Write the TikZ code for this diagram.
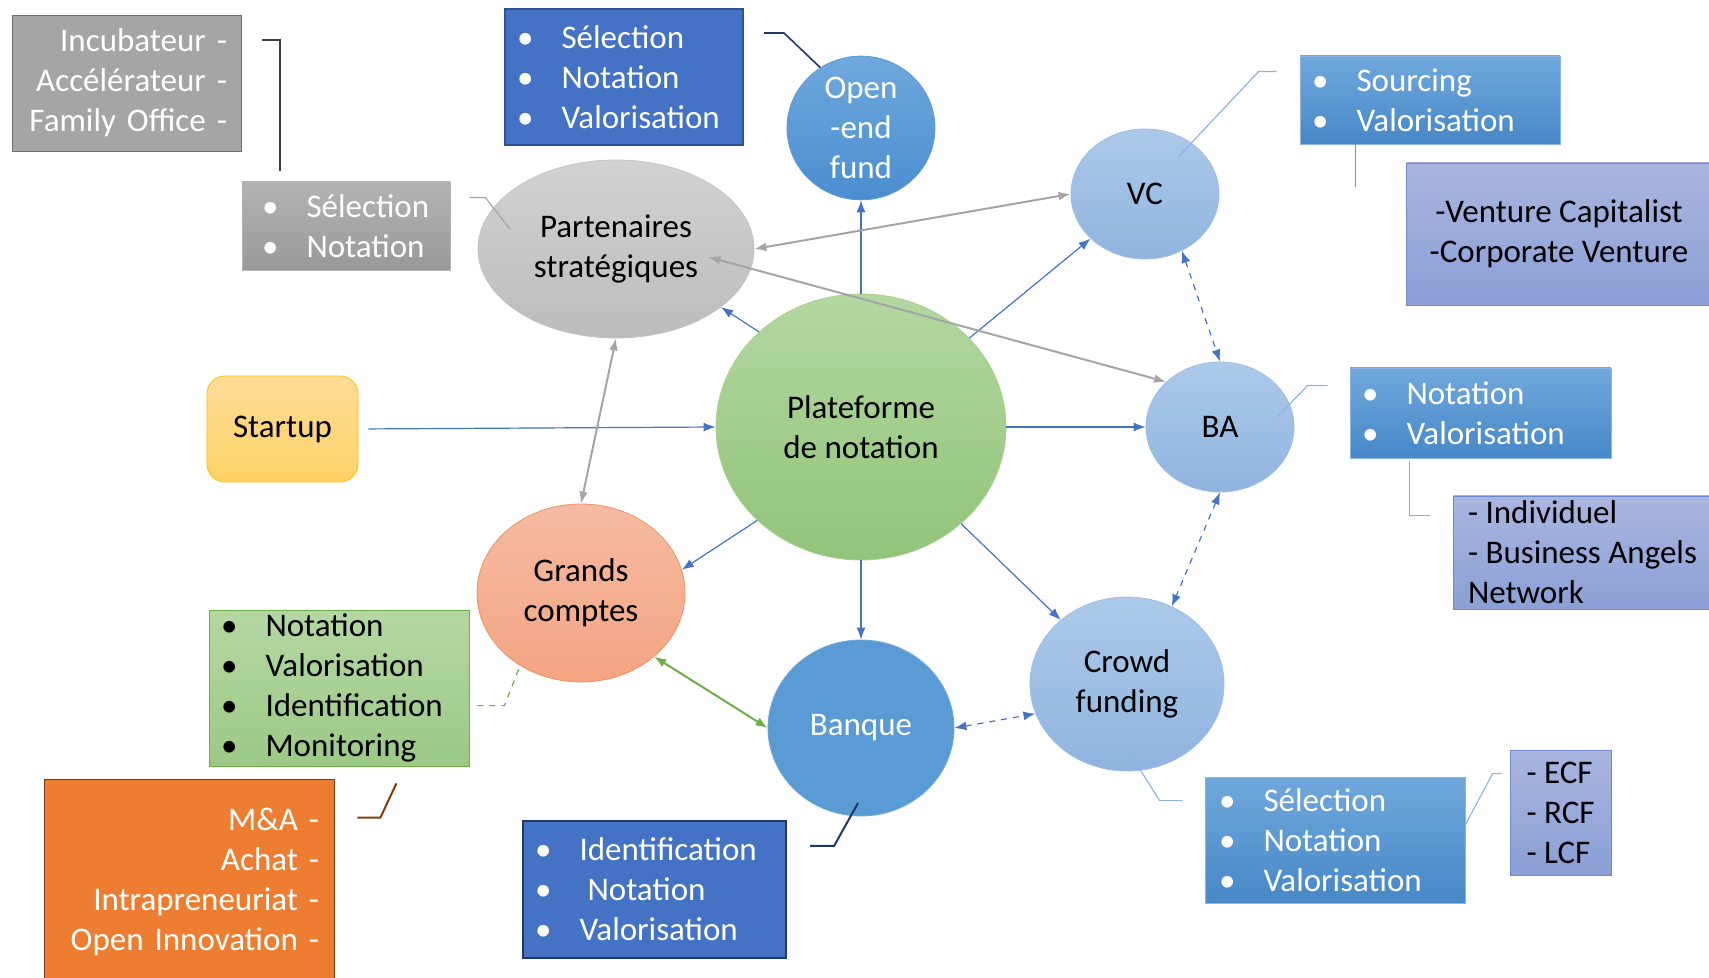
\documentclass[tikz,border=0pt]{standalone}
\usepackage{fontspec}
\setmainfont{Carlito}
\usetikzlibrary{shapes.geometric, arrows.meta}
\definecolor{linkblue}{HTML}{4472C4}
\definecolor{linkgray}{HTML}{A5A5A5}
\definecolor{linkgreen}{HTML}{70AD47}
\definecolor{navy}{HTML}{1F3864}
\definecolor{paleblue}{HTML}{8EB4E3}
\definecolor{brownline}{HTML}{843C0C}
\definecolor{hubtop}{HTML}{B3D7A0}
\definecolor{hubbot}{HTML}{92C47A}
\definecolor{hubline}{HTML}{A9D18E}
\definecolor{parttop}{HTML}{D2D2D2}
\definecolor{partbot}{HTML}{BCBCBC}
\definecolor{partline}{HTML}{C4C4C4}
\definecolor{opentop}{HTML}{6FA8DC}
\definecolor{openbot}{HTML}{4A8ED0}
\definecolor{bankblue}{HTML}{5B9BD5}
\definecolor{lighttop}{HTML}{ADC9E9}
\definecolor{lightbot}{HTML}{8FB4E0}
\definecolor{lightline}{HTML}{9DBDE6}
\definecolor{gctop}{HTML}{F5BBA2}
\definecolor{gcbot}{HTML}{F4A482}
\definecolor{gcline}{HTML}{F08F63}
\definecolor{sttop}{HTML}{FFDC98}
\definecolor{stbot}{HTML}{FFD266}
\definecolor{stline}{HTML}{FFC000}
\definecolor{incubfill}{HTML}{A5A5A5}
\definecolor{incubline}{HTML}{6E6E6E}
\definecolor{graytop}{HTML}{B3B3B3}
\definecolor{graybot}{HTML}{999999}
\definecolor{boxline}{HTML}{2F528F}
\definecolor{midtop}{HTML}{70A8DC}
\definecolor{midbot}{HTML}{4788C8}
\definecolor{kindtop}{HTML}{AAB5E0}
\definecolor{kindbot}{HTML}{8A9FD6}
\definecolor{kindline}{HTML}{6D8AD0}
\definecolor{greentop}{HTML}{B5D7A3}
\definecolor{greenbot}{HTML}{9CC986}
\definecolor{orangefill}{HTML}{ED7D31}
\definecolor{darkline}{HTML}{404040}
\definecolor{kindlink}{HTML}{8FAADC}
\newcommand\diagfont{\fontsize{16.5}{20}\selectfont}
\newcommand\itembul{\makebox[1.35em][l]{\textbullet}}

\begin{document}
\begin{tikzpicture}[x=0.5pt, y=-0.5pt, >={Latex[length=6pt, width=4.5pt]},
                    every node/.style = {font=\diagfont},
                    actor/.style = {ellipse,
                                    inner sep = 0pt,
                                    draw,
                                    align = center,
                                    text = black},
                    lightactor/.style = {actor,
                                         top color = lighttop,
                                         bottom color = lightbot,
                                         draw = lightline},
                    listbox/.style = {rectangle,
                                      inner sep = 0pt,
                                      draw,
                                      align = left},
                    darklist/.style = {listbox,
                                       fill = linkblue,
                                       draw = boxline,
                                       line width = 1pt,
                                       text = white},
                    midlist/.style = {listbox,
                                      top color = midtop,
                                      bottom color = midbot,
                                      draw = paleblue,
                                      text = white},
                    kindbox/.style = {listbox,
                                      top color = kindtop,
                                      bottom color = kindbot,
                                      draw = kindline,
                                      text = black},
                    link/.style = {->, linkblue, line width = 0.6pt},
                    duallink/.style = {<->, linkblue, line width = 0.6pt, dashed},
                    grayline/.style = {<->, linkgray, line width = 1pt},
                    callout/.style = {line width = 0.6pt}]

\useasboundingbox (0,0) rectangle (1709,978);

% acteurs
\node[actor, top color = hubtop, bottom color = hubbot, draw = hubline,
      minimum width = 145pt, minimum height = 133pt] (hub) at (861,427) {Plateforme\\de notation};
\node[actor, top color = parttop, bottom color = partbot, draw = partline,
      minimum width = 138pt, minimum height = 89pt] (part) at (616,249) {Partenaires\\stratégiques};
\node[actor, top color = opentop, bottom color = openbot, draw = bankblue, text = white,
      minimum width = 74pt, minimum height = 65pt] (open) at (861,128) {Open\\-end\\fund};
\node[lightactor, minimum width = 74pt, minimum height = 65pt] (vc) at (1145,194) {VC};
\node[lightactor, minimum width = 74pt, minimum height = 65pt] (ba) at (1220,427) {BA};
\node[lightactor, minimum width = 97pt, minimum height = 87pt] (cf) at (1127,684) {Crowd\\funding};
\node[actor, fill = bankblue, draw = opentop, text = white,
      minimum width = 93pt, minimum height = 88pt] (bq) at (861,728) {Banque};
\node[actor, top color = gctop, bottom color = gcbot, draw = gcline,
      minimum width = 104pt, minimum height = 89pt] (gc) at (581,593) {Grands\\comptes};
\node[rectangle, rounded corners = 9pt, draw = stline, top color = sttop, bottom color = stbot,
      minimum width = 75.5pt, minimum height = 53pt] (st) at (282.5,429) {Startup};

% listes
\node[listbox, fill = incubfill, draw = incubline, text = white, align = right,
      text width = 100.5pt, minimum width = 114.5pt, minimum height = 68pt] (incub) at (126.5,83)
     {Incubateur -\\Accélérateur -\\Family Office -};
\node[listbox, top color = graytop, bottom color = graybot, draw = graytop, text = white,
      text width = 84pt, minimum width = 104pt, minimum height = 44pt] (selgray) at (346,226)
     {\itembul Sélection\\\itembul Notation};
\node[darklist, text width = 107pt, minimum width = 119pt, minimum height = 68pt] (selblue) at (624,77)
     {\itembul Sélection\\\itembul Notation\\\itembul Valorisation};
\node[midlist, text width = 118pt, minimum width = 130pt, minimum height = 44pt] (sourcing) at (1430,100)
     {\itembul Sourcing\\\itembul Valorisation};
\node[kindbox, align = center, minimum width = 153pt, minimum height = 71pt] (venture) at (1559,234)
     {-Venture Capitalist\\-Corporate Venture};
\node[midlist, text width = 118.5pt, minimum width = 130.5pt, minimum height = 45pt] (balist) at (1480.5,413)
     {\itembul Notation\\\itembul Valorisation};
\node[kindbox, minimum width = 129.5pt, minimum height = 56.5pt] (indiv) at (1582.5,552.5)
     {- Individuel\\- Business Angels\\Network};
\node[midlist, text width = 116pt, minimum width = 130pt, minimum height = 63pt] (cflist) at (1335,840)
     {\itembul Sélection\\\itembul Notation\\\itembul Valorisation};
\node[kindbox, minimum width = 50.5pt, minimum height = 62.5pt] (ecf) at (1560.5,812.5)
     {- ECF\\- RCF\\- LCF};
\node[listbox, top color = greentop, bottom color = greenbot, draw = linkgreen,
      text width = 118pt, minimum width = 130pt, minimum height = 78pt] (gclist) at (339,688)
     {\itembul Notation\\\itembul Valorisation\\\itembul Identification\\\itembul Monitoring};
\node[listbox, fill = orangefill, draw = brownline, text = white, align = right,
      text width = 130pt, minimum width = 145pt, minimum height = 103pt] (usage) at (189,882)
     {M\&A -\\Achat -\\Intrapreneuriat -\\Open Innovation -};
\node[darklist, draw = navy, line width = 1.2pt, text width = 119.5pt,
      minimum width = 131.5pt, minimum height = 68.5pt] (bqlist) at (654.5,889.5)
     {\itembul Identification\\\itembul\hspace{4pt}Notation\\\itembul Valorisation};

% flux
\path (st.east) edge [link, shorten <= 5pt] (hub.west);
\path (hub) edge [link] (open);
\path (hub) edge [link] (vc);
\path (hub) edge [link] (ba);
\path (hub) edge [link] (cf);
\path (hub) edge [link] (bq);
\path (hub.137) edge [link] (part.-29);
\path (hub.222) edge [link] (gc.13);
\path (part.east) edge [grayline] (vc.west);
\path ([shift={(-46,8)}]part.east) edge [grayline] (ba.140);
\path (part.south) edge [grayline] (gc.north);
\path (vc.-57) edge [duallink] (ba.north);
\path (ba.south) edge [duallink] (cf.60);
\path (bq.east) edge [duallink] (cf.198);
\path (gc.-41) edge [<->, linkgreen, line width = 1pt] (bq.west);

% renvois
\draw[callout, darkline, line width = 1pt] ([shift={(21,25)}]incub.north east) -| ([shift={(38,-11)}]selgray.north west);
\draw[callout, linkgray] ([shift={(19,16)}]selgray.north east) -- ++(16,0) -- ([shift={(-106,-20)}]part.center);
\draw[callout, navy, line width = 0.8pt] ([shift={(20,25)}]selblue.north east) -- ++(20,0) -- (open.124);
\draw[callout, paleblue] ([shift={(34,-38)}]vc.center) -- ([shift={(-41,16)}]sourcing.north west) -- ++(18,0);
\draw[callout, bankblue] ([shift={(56,0)}]sourcing.south west) -- ++(0,43);
\draw[callout, paleblue] ([shift={(57,-10)}]ba.center) -- ([shift={(-42,18)}]balist.north west) -- ++(20,0);
\draw[callout, kindlink] ([shift={(60,3)}]balist.south west) |- ([shift={(-23,20)}]indiv.north west);
\draw[callout, paleblue] ([shift={(2,68)}]cf.center) -- ([shift={(-45,24)}]cflist.north west) -- ++(23,0);
\draw[callout, paleblue] ([shift={(0,48)}]cflist.north east) -- ([shift={(-17,24)}]ecf.north west) -- ++(9,0);
\draw[callout, linkgreen, dashed] ([shift={(8,96)}]gclist.north east) -- ++(27,0) -- (gc.230);
\draw[callout, brownline, line width = 1pt] ([shift={(23,39)}]usage.north east) -- ++(23,0) -- ([shift={(-73,17)}]gclist.south east);
\draw[callout, navy, line width = 1pt] ([shift={(23,26)}]bqlist.north east) -- ++(24,0) -- ([shift={(-3,75)}]bq.center);

\end{tikzpicture}
\end{document}
